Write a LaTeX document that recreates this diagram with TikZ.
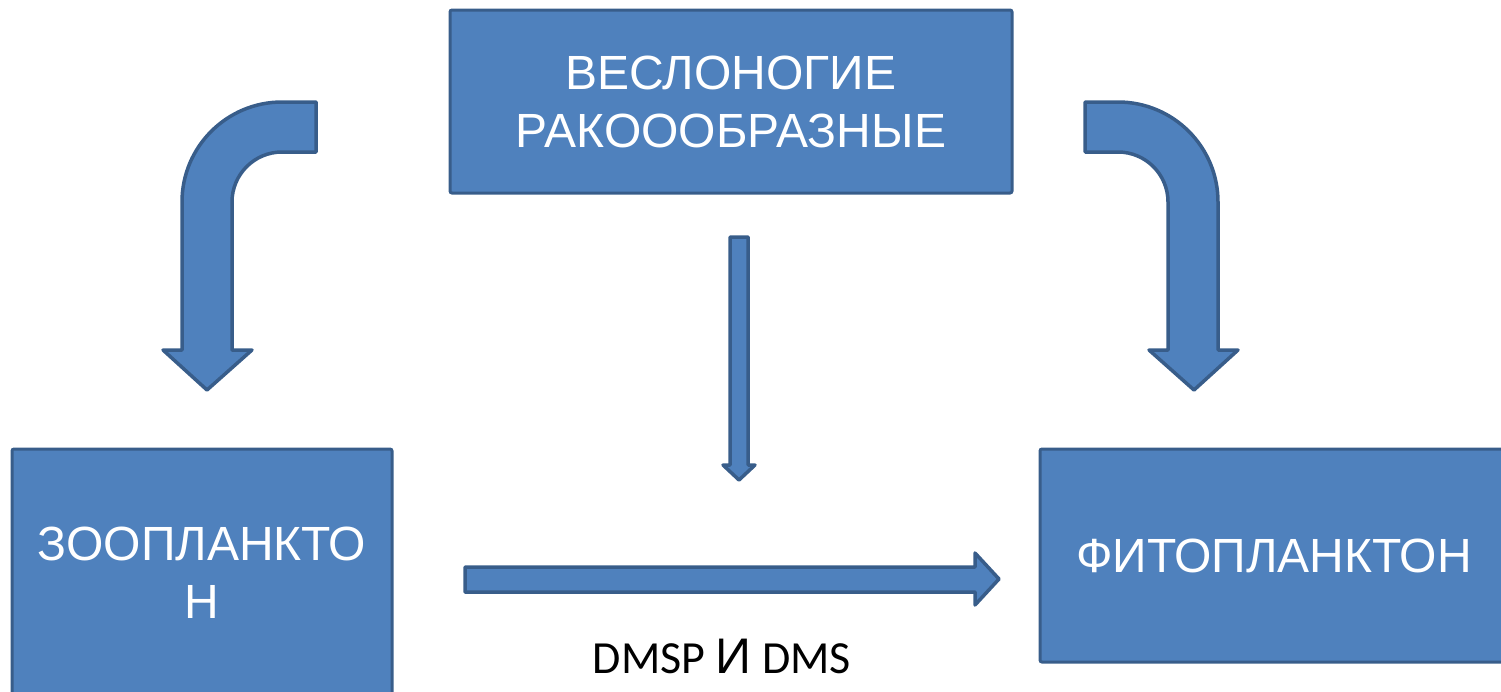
\documentclass[tikz,border=0pt]{standalone}
\usepackage{fontspec}
\setmainfont{Liberation Sans}
\newfontfamily\carlito{Carlito}
\newfontfamily\arialf{Liberation Sans}
\definecolor{boxfill}{HTML}{4F81BD}
\definecolor{boxline}{HTML}{385D8A}
\begin{document}
\begin{tikzpicture}[x=1pt,y=1pt,
  blockbox/.style={draw=boxline, fill=boxfill, line width=3pt, rounded corners=2pt,
    inner sep=0pt, text=white, align=center,
    font=\arialf\fontsize{48}{58}\selectfont},
  blockarrow/.style={draw=boxline, fill=boxfill, line width=3.5pt, line join=round}]
\useasboundingbox (0,0) rectangle (1501,-691);
\node[blockbox, minimum width=562pt, minimum height=183pt] (top) at (731,-101.5) {ВЕСЛОНОГИЕ\\РАКОООБРАЗНЫЕ};
\node[blockbox, minimum width=380pt, minimum height=248pt] (zoo) at (202,-573) {ЗООПЛАНКТО\\Н};
\node[blockbox, minimum width=468pt, minimum height=213pt] (phyto) at (1274,-555.5) {ФИТОПЛАНКТОН};
% bent arrow left
\draw[blockarrow] (316,-102) -- (282,-102) arc[start angle=90, end angle=180, radius=100]
  -- (182,-350) -- (163,-350) -- (207,-390) -- (252,-350) -- (232,-350) -- (232,-202)
  arc[start angle=180, end angle=90, radius=50] -- (316,-152) -- cycle;
% bent arrow right
\draw[blockarrow] (1085,-102) -- (1118,-102) arc[start angle=90, end angle=0, radius=100]
  -- (1218,-350) -- (1238,-350) -- (1194,-390) -- (1149,-350) -- (1168,-350) -- (1168,-202)
  arc[start angle=0, end angle=90, radius=50] -- (1085,-152) -- cycle;
% middle vertical arrow
\draw[blockarrow] (730,-237) -- (748,-237) -- (748,-465) -- (755,-465) -- (739,-480)
  -- (723,-465) -- (730,-465) -- cycle;
% horizontal arrow
\draw[blockarrow] (465,-567) -- (975,-567) -- (975,-553) -- (999,-579) -- (975,-605)
  -- (975,-592) -- (465,-592) -- cycle;
\node[inner sep=0pt, font=\carlito\fontsize{46}{55}\selectfont] (dms) at (722,-656)
  {DMSP {\arialf\fontsize{50}{55}\selectfont И} DMS};
\end{tikzpicture}
\end{document}
